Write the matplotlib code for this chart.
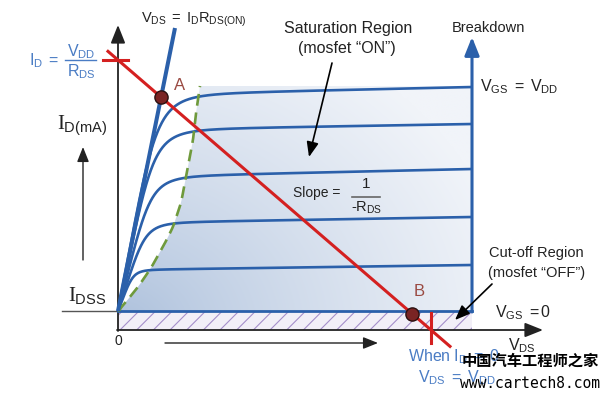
import numpy as np
import matplotlib
matplotlib.use('Agg')
import matplotlib.pyplot as plt
from matplotlib.patches import Polygon, Rectangle

plt.rcParams['font.family'] = ['Liberation Sans', 'DejaVu Sans']
plt.rcParams['mathtext.fontset'] = 'custom'
plt.rcParams['mathtext.rm'] = 'Liberation Sans'
plt.rcParams['mathtext.it'] = 'Liberation Serif'
plt.rcParams['hatch.linewidth'] = 0.8

# --- values (VDS, ID in arbitrary diagram units) ---
idss = 1.9            # leakage level, bottom of the curve family
v_breakdown = 35.4    # right hand limit of the curves
v_dd = 31.3           # load line intercept on the VDS axis
id_max = 27.0         # load line intercept on the ID axis

# output curves: ohmic slope, flat level near the knee, flat level at breakdown
ohmic_slope = [5.3, 4.8, 3.9, 3.1, 2.6]
level_knee = [23.5, 20.0, 15.3, 10.7, 6.0]
level_end = [24.3, 20.6, 16.1, 11.3, 6.5]

# pinch-off boundary (green dashed) through the knees
pinch_vds = [0.0, 0.7, 2.0, 3.3, 4.7, 5.5, 6.3, 6.8, 7.5, 7.8, 8.2]
pinch_id = [1.9, 2.7, 4.3, 6.2, 8.7, 10.3, 12.7, 15.3, 19.0, 21.7, 24.4]

# VDS = ID * RDS(on) line
ron_vds = [0.0, 5.7]
ron_id = [1.9, 30.2]

# operating points on the load line
point_vds = {'A': 4.3, 'B': 29.4}

blue = '#2b60aa'
red = '#d42020'
green = '#6f9a3c'
dark = '#222222'
label_blue = '#4a7cc4'

fig = plt.figure(figsize=(6.09, 3.99), dpi=100)
ax = fig.add_axes([0, 0, 1, 1])
ax.set_xlim(-11.8, 49.1)
ax.set_ylim(-6.9, 33.0)
ax.axis('off')

# smooth the pinch-off boundary a little
g_id = np.linspace(pinch_id[0], pinch_id[-1], 200)
g_vds = np.interp(g_id, pinch_id, pinch_vds)
kern = np.ones(9) / 9
g_vds_s = np.convolve(np.pad(g_vds, 4, mode='edge'), kern, mode='valid')
g_vds_s[0] = 0.0
g_vds_s[-1] = pinch_vds[-1]

# shaded saturation area with a soft gradient
poly = np.column_stack([np.r_[g_vds_s, v_breakdown, v_breakdown],
                        np.r_[g_id, pinch_id[-1], idss]])
xx, yy = np.meshgrid(np.linspace(0, v_breakdown, 300), np.linspace(idss, pinch_id[-1], 200))
t = np.clip(np.hypot(xx, yy * 1.2) / 40.0, 0, 1) ** 0.75
near = np.array([168, 189, 218]) / 255
far = np.array([241, 244, 249]) / 255
img = near[None, None, :] * (1 - t[..., None]) + far[None, None, :] * t[..., None]
im = ax.imshow(img, extent=[0, v_breakdown, idss, pinch_id[-1]], origin='lower',
               aspect='auto', zorder=1, interpolation='bilinear')
clip = Polygon(poly, closed=True, transform=ax.transData, facecolor='none', edgecolor='none')
ax.add_patch(clip)
im.set_clip_path(clip)

# cut-off band
ax.add_patch(Rectangle((0, 0), v_breakdown, idss, facecolor='#f2eff7', edgecolor='#a58fca',
                       hatch='//', linewidth=0, zorder=2))

# axes with arrows
arrow_kw = dict(arrowstyle='-|>,head_length=0.55,head_width=0.22', mutation_scale=20,
                shrinkA=0, shrinkB=0)
ax.annotate('', xy=(0, 30.5), xytext=(0, -0.1),
            arrowprops=dict(color=dark, lw=1.3, **arrow_kw), zorder=3)
ax.annotate('', xy=(42.5, 0), xytext=(-0.1, 0),
            arrowprops=dict(color=dark, lw=1.3, **arrow_kw), zorder=3)
ax.plot([-5.6, 0], [idss, idss], color='#555555', lw=1.0, zorder=3)

# direction arrows outside the axes
small_kw = dict(arrowstyle='-|>,head_length=0.5,head_width=0.2', mutation_scale=18,
                shrinkA=0, shrinkB=0)
ax.annotate('', xy=(-3.5, 18.3), xytext=(-3.5, 7.0),
            arrowprops=dict(color=dark, lw=1.0, **small_kw))
ax.annotate('', xy=(26.0, -1.3), xytext=(4.7, -1.3),
            arrowprops=dict(color=dark, lw=1.0, **small_kw))

# output characteristic curves
v = np.linspace(1e-4, v_breakdown, 800)
n = 4
for g, h0, h1 in zip(ohmic_slope, level_knee, level_end):
    flat = (h0 - idss) + (h1 - h0) * v / v_breakdown
    cur = idss + ((g * v) ** -n + flat ** -n) ** (-1.0 / n)
    ax.plot(np.r_[0, v], np.r_[idss, cur], color=blue, lw=1.9, zorder=4,
            solid_capstyle='butt')
ax.plot([0, v_breakdown], [idss, idss], color=blue, lw=2.0, zorder=4)

# breakdown limit
ax.annotate('', xy=(v_breakdown, 29.3), xytext=(v_breakdown, idss - 0.1),
            arrowprops=dict(color=blue, lw=2.2, **arrow_kw), zorder=4)

# pinch-off boundary
ax.plot(g_vds_s, g_id, color=green, lw=1.9, dashes=(4.5, 2.6), zorder=5)

# RDS(on) line
ax.plot(ron_vds, ron_id, color=blue, lw=2.9, zorder=5, solid_capstyle='butt')

# load line
load_v = np.array([-1.0, 33.2])
ax.plot(load_v, id_max * (1 - load_v / v_dd), color=red, lw=2.2, zorder=6)
ax.plot([-1.5, 1.0], [id_max, id_max], color=red, lw=2.2, zorder=6)
ax.plot([v_dd, v_dd], [1.7, -1.3], color=red, lw=2.2, zorder=6)

for name, pv in point_vds.items():
    ax.plot(pv, id_max * (1 - pv / v_dd), 'o', ms=9.5, mfc='#7a2424', mec='#2a1010',
            mew=1.0, zorder=7)

# labels
ax.text(6.2, 24.4, 'A', fontsize=12, color='#9a4a42', ha='center', va='center')
ax.text(30.1, 3.8, 'B', fontsize=12, color='#9a4a42', ha='center', va='center')
ax.text(7.6, 31.0, r'$\mathrm{V_{DS}\ =\ I_{D}R_{DS(ON)}}$', fontsize=10.5, color=dark,
        ha='center', va='center')

ax.text(-5.9, 26.9, r'$\mathrm{I_{D}\ =}$', fontsize=11.5, color=label_blue, ha='right', va='center')
ax.text(-3.7, 27.8, r'$\mathrm{V_{DD}}$', fontsize=11.5, color=label_blue, ha='center', va='center')
ax.plot([-5.3, -2.2], [27.0, 27.0], color=label_blue, lw=1.0)
ax.text(-3.7, 25.8, r'$\mathrm{R_{DS}}$', fontsize=11.5, color=label_blue, ha='center', va='center')

ax.text(-6.1, 20.4, r'$I_{\mathrm{D(mA)}}$', fontsize=15, color=dark, ha='left', va='center')
ax.text(-5.0, 3.5, r'$I_{\mathrm{DSS}}$', fontsize=15, color=dark, ha='left', va='center')
ax.text(0, -1.1, '0', fontsize=10, color=dark, ha='center', va='center')

ax.text(23.0, 30.2, 'Saturation Region', fontsize=11.5, color=dark, ha='center', va='center')
ax.text(22.9, 28.2, '(mosfet \u201cON\u201d)', fontsize=11.5, color=dark, ha='center', va='center')
ax.annotate('', xy=(19.1, 17.3), xytext=(21.4, 26.7),
            arrowprops=dict(color='black', lw=1.2, **small_kw), zorder=8)

ax.text(37.0, 30.2, 'Breakdown', fontsize=10.5, color=dark, ha='center', va='center')
ax.text(36.2, 24.3, r'$\mathrm{V_{GS}\ =\ V_{DD}}$', fontsize=11.5, color=dark,
        ha='left', va='center')

ax.text(17.5, 13.7, 'Slope =', fontsize=10, color=dark, ha='left', va='center', zorder=8)
ax.text(24.8, 14.6, '1', fontsize=11, color=dark, ha='center', va='center', zorder=8)
ax.plot([23.4, 26.2], [13.3, 13.3], color='#666666', lw=1.2, zorder=8)
ax.text(24.9, 12.2, r'-$\mathrm{R_{DS}}$', fontsize=10.5, color=dark, ha='center', va='center', zorder=8)

ax.text(41.8, 7.7, 'Cut-off Region', fontsize=10.5, color=dark, ha='center', va='center')
ax.text(41.9, 5.7, '(mosfet \u201cOFF\u201d)', fontsize=10.5, color=dark, ha='center', va='center')
ax.annotate('', xy=(33.7, 1.0), xytext=(37.4, 4.6),
            arrowprops=dict(color='black', lw=1.2, **small_kw), zorder=8)

ax.text(37.7, 1.7, r'$\mathrm{V_{GS}\ =0}$', fontsize=11.5, color=dark, ha='left', va='center')
ax.text(39.0, -2.0, r'$\mathrm{V_{DS}}$', fontsize=11.5, color=dark, ha='left', va='baseline')

ax.text(29.0, -2.7, r'$\mathrm{When\ I_{D}\ =\ 0}$', fontsize=11.5, color=label_blue,
        ha='left', va='center')
ax.text(30.0, -4.8, r'$\mathrm{V_{DS}\ =\ V_{DD}}$', fontsize=11.5, color=label_blue,
        ha='left', va='center')

# watermark
ax.text(53.0 - 11.8, -3.1, '中国汽车工程师之家', fontsize=11, color='black', ha='center', va='center',
        family=['Noto Sans CJK SC', 'DejaVu Sans'], fontweight='bold', zorder=9)
ax.text(41.2, -5.35, 'www.cartech8.com', fontsize=10.5, color='black', ha='center', va='center',
        family='DejaVu Sans Mono', zorder=9)

fig.savefig('out.png', dpi=100)
